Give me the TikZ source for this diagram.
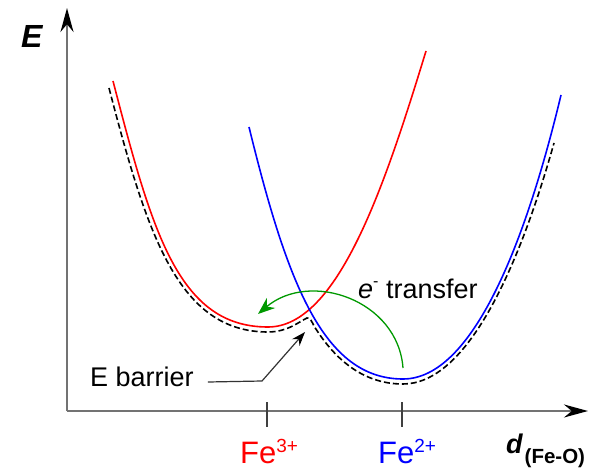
\documentclass[tikz,border=0pt]{standalone}
\usepackage{fontspec}
\setmainfont{Liberation Sans}
\usetikzlibrary{positioning,arrows.meta}
\begin{document}
\begin{tikzpicture}[
  x=1pt, y=-1pt,
  axis/.style={draw=black!55, line width=2pt, -{Stealth[length=24pt,width=13pt,color=black]}},
  axtick/.style={draw=black!75, line width=1.2pt},
  pes/.style={line width=1.6pt},
  envelope/.style={line width=1.6pt, dash pattern=on 6pt off 3pt},
  xfer/.style={draw=green!60!black, line width=1.3pt, -{Stealth[length=17pt,width=13pt]}},
  ptr/.style={draw=black!80, line width=1.2pt, -{Stealth[length=14pt,width=10pt,color=black]}},
  lbl/.style={inner sep=0pt, font=\fontsize{27}{30}\selectfont},
  ion/.style={inner sep=0pt, anchor=base, text depth=0pt, font=\fontsize{31}{34}\selectfont}
]
\useasboundingbox (0,0) rectangle (596,470);
\coordinate (origin) at (67,411);
\coordinate (ytop) at (67,8);
\coordinate (xend) at (588,411);
\draw[axis] (origin) -- (ytop);
\draw[axis] (origin) -- (xend);
\coordinate (t3) at (267,402);
\coordinate (t2) at (402,402);
\draw[axtick] (t3) -- ++(0,25);
\draw[axtick] (t2) -- ++(0,25);

\coordinate (redmin) at (268,327);
\coordinate (bluemin) at (403,379);
\draw[envelope] (109,88) .. controls (147,234) and (178,332) .. (268,332)
  .. controls (288,332) and (300,321) .. (307,318)
  .. controls (310,317) and (312,322) .. (314,326)
  .. controls (337,363) and (366,384) .. (403,384)
  .. controls (466,384) and (518,271) .. (554,143);
\draw[pes, red] (113,81) .. controls (152,231) and (178,327) .. (redmin)
  .. controls (338,327) and (385,185) .. (426,51);
\draw[pes, blue] (249,127) .. controls (287,282) and (323,379) .. (bluemin)
  .. controls (473,379) and (526,241) .. (561,95);

\coordinate (gfrom) at (403,368);
\coordinate (gto) at (258,314);
\draw[xfer] (gfrom) .. controls (398,300) and (310,270) .. (gto);

\node[lbl, anchor=base west, font=\fontsize{32}{36}\selectfont\bfseries\itshape] (elab) at (21,48) {E};
\node[lbl, anchor=base west] (dlab) at (506,453) {{\fontsize{27}{30}\selectfont\bfseries\itshape d}\kern2pt\raisebox{-10pt}{\fontsize{20.5}{22}\selectfont\bfseries (Fe-O)}};
\node[ion, text=red] (fe3) at (269,463) {Fe\raisebox{11pt}{\fontsize{19}{20}\selectfont 3+}};
\node[ion, text=blue] (fe2) at (407,463) {Fe\raisebox{11pt}{\fontsize{19}{20}\selectfont 2+}};
\node[lbl, anchor=base west] (etr) at (358,298) {\textit{e}\raisebox{12pt}{\fontsize{16}{16}\selectfont -}\ transfer};
\node[lbl, anchor=base west] (barrier) at (90,386) {E barrier};

\coordinate (kink) at (262,381);
\coordinate (bump) at (305,332);
\draw[ptr] ([xshift=14pt,yshift=4pt]barrier.base east) -- (kink) -- (bump);
\end{tikzpicture}
\end{document}
